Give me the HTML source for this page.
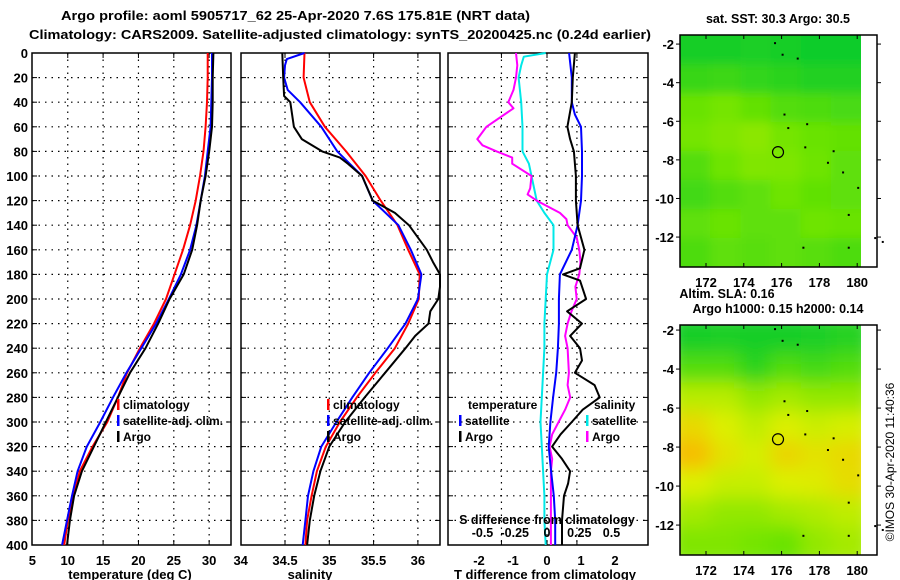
<!DOCTYPE html>
<html><head><meta charset="utf-8">
<style>
html,body{margin:0;padding:0;background:#fff;}
svg{display:block;font-family:"Liberation Sans",sans-serif;font-weight:bold;}
</style></head>
<body>
<svg id="fig" width="900" height="580" viewBox="0 0 900 580" xmlns="http://www.w3.org/2000/svg">
<rect width="900" height="580" fill="#fff"/>
<text x="61" y="20" font-size="13" textLength="469" lengthAdjust="spacingAndGlyphs">Argo profile: aoml 5905717_62 25-Apr-2020 7.6S 175.81E (NRT data)</text>
<text x="29" y="39" font-size="13" textLength="622" lengthAdjust="spacingAndGlyphs">Climatology: CARS2009. Satellite-adjusted climatology: synTS_20200425.nc (0.24d earlier)</text>
<g id="layer"></g>
</svg>
<script>
// ---- data ----
const depths = [0,20,40,60,80,100,120,140,160,180,200,220,240,260,280,300,320,340,360,380,400];
const tempClim = [29.8,29.8,29.7,29.5,29.2,28.7,28.1,27.3,26.3,25.1,23.9,22.2,20.2,18.4,17.1,15.6,13.5,11.7,10.8,10.0,9.5];
const tempSat  = [30.4,30.4,30.3,30.2,29.8,29.4,28.8,28.2,27.3,26.0,24.3,22.5,20.4,18.3,16.4,14.6,12.7,11.4,10.6,9.9,9.2];
const tempArgo = [30.6,30.5,30.5,30.4,30.0,29.5,28.8,28.3,27.6,26.4,24.4,22.8,21.0,18.8,17.1,15.4,13.7,12.0,10.9,10.3,9.9];

const salDepthsClim = [0,20,40,60,80,100,120,140,160,180,200,220,240,260,280,300,320,340,360,380,400];
const salClim = [34.72,34.71,34.78,34.95,35.19,35.41,35.58,35.77,35.89,36.02,36.01,35.89,35.74,35.52,35.31,35.12,34.96,34.86,34.80,34.75,34.73];
const salDepthsSat = [0,5,10,20,30,40,60,80,100,120,140,160,180,200,220,240,260,280,300,320,340,360,380,400];
const salSat = [34.72,34.52,34.50,34.49,34.53,34.67,34.91,35.09,35.37,35.49,35.78,35.92,36.04,36.00,35.86,35.66,35.45,35.26,35.08,34.91,34.82,34.76,34.73,34.70];
const salDepthsArgo = [0,20,35,40,60,70,80,85,90,100,120,130,140,160,170,180,190,200,210,220,230,240,260,280,300,320,340,360,380,400];
const salArgo = [34.47,34.48,34.49,34.56,34.60,34.69,34.92,35.12,35.21,35.37,35.49,35.74,35.90,36.10,36.17,36.25,36.25,36.23,36.14,36.12,35.97,35.86,35.63,35.40,35.18,35.00,34.90,34.83,34.78,34.75];

const tdDepthsSat = [0,20,40,50,60,80,100,120,140,160,180,200,220,240,260,280,300,320,340,360,380,400];
const tdSat = [0.65,0.73,0.73,0.82,1.0,1.03,1.03,1.0,0.9,0.73,0.38,0.35,0.35,0.32,0.27,0.18,0.1,0.05,0.12,0.2,0.24,0.24];
const tdDepthsArgo = [0,20,40,60,70,80,100,120,140,150,160,175,180,185,200,210,220,230,240,250,260,270,280,290,300,310,320,330,340,350,360,370,380,400];
const tdArgo = [0.82,0.76,0.73,0.6,0.68,0.79,0.85,0.85,0.9,1.0,1.1,0.97,0.47,0.97,1.15,0.59,1.03,0.68,0.97,1.03,0.82,1.4,1.55,1.05,0.73,0.4,0.15,0.44,0.68,0.62,0.5,0.47,0.44,0.44];
const sdDepthsSat = [0,3,10,20,40,60,80,90,100,120,130,140,160,180,200,220,240,260,280,300,320,340,360,380,400];
const sdSat = [-0.01,-0.18,-0.2,-0.22,-0.2,-0.19,-0.19,-0.14,-0.12,-0.08,-0.02,0.05,0.05,0.0,-0.01,-0.02,-0.02,-0.03,-0.04,-0.05,-0.04,-0.03,-0.02,-0.02,-0.01];
const sdDepthsArgo = [0,10,20,30,40,45,50,60,70,75,80,85,90,100,110,115,120,130,135,140,150,160,170,180,190,200,210,220,230,240,260,270,280,290,300,310,320,330,340,360,380,400];
const sdArgo = [-0.24,-0.23,-0.24,-0.26,-0.3,-0.26,-0.33,-0.47,-0.54,-0.5,-0.39,-0.27,-0.27,-0.12,-0.13,-0.15,-0.08,0.1,0.15,0.16,0.23,0.25,0.26,0.25,0.22,0.23,0.19,0.16,0.14,0.16,0.17,0.16,0.18,0.14,0.09,0.04,0.02,0.04,0.03,0.03,0.03,0.03];

const depthTicks = [0,20,40,60,80,100,120,140,160,180,200,220,240,260,280,300,320,340,360,380,400];
const tempTicks = [5,10,15,20,25,30];
const salTicks = [34,34.5,35,35.5,36];
const tdTicks = [-2,-1,0,1,2];
const sdTicks = [-0.5,-0.25,0,0.25,0.5];
const latTicks = [-2,-4,-6,-8,-10,-12];
const lonTicks = [172,174,176,178,180];
// coarse map fields (0=green .. 1=orange), rows north->south
const sstField = [
 [0.08,0.08,0.1,0.08,0.06,0.06],
 [0.2,0.22,0.18,0.15,0.12,0.12],
 [0.38,0.42,0.36,0.3,0.28,0.26],
 [0.42,0.45,0.48,0.42,0.38,0.36],
 [0.3,0.4,0.45,0.44,0.4,0.34],
 [0.24,0.3,0.34,0.4,0.35,0.34],
 [0.34,0.38,0.34,0.34,0.4,0.38],
 [0.28,0.34,0.32,0.34,0.32,0.28]];
const slaField = [
 [0.08,0.1,0.08,0.08,0.1,0.14],
 [0.3,0.3,0.15,0.3,0.24,0.3],
 [0.6,0.6,0.5,0.55,0.5,0.5],
 [0.8,0.7,0.62,0.7,0.65,0.68],
 [0.92,0.76,0.68,0.82,0.76,0.8],
 [0.7,0.64,0.64,0.7,0.72,0.78],
 [0.55,0.5,0.5,0.55,0.58,0.62],
 [0.45,0.45,0.42,0.38,0.5,0.55]];

// ---- helpers ----
const NS='http://www.w3.org/2000/svg';
const layer=document.getElementById('layer');
function mk(tag,attrs,parent){const e=document.createElementNS(NS,tag);for(const k in attrs)e.setAttribute(k,attrs[k]);(parent||layer).appendChild(e);return e;}
function txt(x,y,s,size,anchor,parent){const t=mk('text',{x:x,y:y,'font-size':size,'text-anchor':anchor||'middle'},parent);t.textContent=s;return t;}
const Y0=53, Y1=545;
const yD=d=>Y0+d*(Y1-Y0)/400;

function panel(name,x0,x1,xs,gridVals,tickVals,tickLabels){
  const g=mk('g',{});
  
  
  depthTicks.forEach(d=>{ if(d>0&&d<400){mk('line',{x1:x0,x2:x1,y1:yD(d),y2:yD(d),stroke:'#000','stroke-width':1.2,'stroke-dasharray':'1.5 5'},g);
    mk('line',{x1:x0,x2:x0+5,y1:yD(d),y2:yD(d),stroke:'#000','stroke-width':1},g);
    mk('line',{x1:x1-5,x2:x1,y1:yD(d),y2:yD(d),stroke:'#000','stroke-width':1},g);} });
  gridVals.forEach(v=>{mk('line',{x1:xs(v),x2:xs(v),y1:Y0,y2:Y1,stroke:'#000','stroke-width':1.2,'stroke-dasharray':'1.5 5'},g);
    mk('line',{x1:xs(v),x2:xs(v),y1:Y0,y2:Y0+5,stroke:'#000'},g);mk('line',{x1:xs(v),x2:xs(v),y1:Y1-5,y2:Y1,stroke:'#000'},g);});
  mk('rect',{x:x0,y:Y0,width:x1-x0,height:Y1-Y0,fill:'none',stroke:'#000','stroke-width':1.5},g);
  tickVals.forEach((v,i)=>{const t=txt(xs(v),565,tickLabels[i],13,'middle',g);
    
    });
  return g;
}
function series(name,xs,vals,ds,color,g,w){
  const pts=vals.map((v,i)=>xs(v).toFixed(1)+','+yD(ds[i]).toFixed(1)).join(' ');
  const p=mk('polyline',{points:pts,fill:'none',stroke:color,'stroke-width':w||2,'stroke-linejoin':'round'},g);
  
  
}
function legendEntry(x,y,color,label,g){
  const e=mk('g',{},g);
  
  
  if(color) mk('rect',{x:x,y:y-10,width:2.5,height:11,fill:color},e);
  txt(x+6,y,label,12,'start',e);
}

depthTicks.forEach(d=>{const t=txt(28,yD(d)+5,String(d),13,'end');
  
  });

const xT=v=>32.4+(v-5)*7.07;
const p1=panel('temperature-panel',32,231,xT,[10,15,20,25,30],tempTicks,tempTicks.map(String));
series('temperature-climatology-line',xT,tempClim,depths,'#f00',p1);
series('temperature-satellite-line',xT,tempSat,depths,'#00f',p1);
series('temperature-argo-line',xT,tempArgo,depths,'#000',p1);
legendEntry(117,409,'#f00','climatology',p1);
legendEntry(117,425,'#00f','satellite-adj. clim.',p1);
legendEntry(117,441,'#000','Argo',p1);
let t1=txt(130,579,'temperature (deg C)',13);

const xS=v=>240.7+(v-34)*88.6;
const p2=panel('salinity-panel',241,440,xS,[34.5,35,35.5,36],salTicks,salTicks.map(String));
series('salinity-climatology-line',xS,salClim,salDepthsClim,'#f00',p2);
series('salinity-satellite-line',xS,salSat,salDepthsSat,'#00f',p2);
series('salinity-argo-line',xS,salArgo,salDepthsArgo,'#000',p2);
legendEntry(327,409,'#f00','climatology',p2);
legendEntry(327,425,'#00f','satellite-adj. clim.',p2);
legendEntry(327,441,'#000','Argo',p2);
let t2=txt(310,579,'salinity',13);

const xTD=v=>547+v*34;
const xSD=v=>547+v*129;
const p3=panel('difference-panel',448,648,xTD,[-1.34,0,0.88],tdTicks,tdTicks.map(String));
series('sdiff-satellite-line',xSD,sdSat,sdDepthsSat,'#00e8e8',p3);
series('sdiff-argo-line',xSD,sdArgo,sdDepthsArgo,'#f0f',p3);
series('tdiff-satellite-line',xTD,tdSat,tdDepthsSat,'#00f',p3);
series('tdiff-argo-line',xTD,tdArgo,tdDepthsArgo,'#000',p3);
legendEntry(462,409,null,'temperature',p3);
legendEntry(459,425,'#00f','satellite',p3);
legendEntry(459,441,'#000','Argo',p3);
legendEntry(588,409,null,'salinity',p3);
legendEntry(586,425,'#00e8e8','satellite',p3);
legendEntry(586,441,'#f0f','Argo',p3);
let t3=txt(547,524,'S difference from climatology',12.5);
sdTicks.forEach(v=>{const t=txt(xSD(v),537,String(v),12.5);
  
  });
let t4=txt(545,579,'T difference from climatology',13);

// ---- maps ----
function lerp(a,b,t){return Math.round(a+(b-a)*t);}
function col(v){const stops=[[0,[0,200,50]],[0.4,[110,228,0]],[0.7,[220,240,0]],[1,[255,170,0]]];
  for(let i=0;i<stops.length-1;i++){const [a,ca]=stops[i],[b,cb]=stops[i+1];if(v<=b){const t=(v-a)/(b-a);return 'rgb('+lerp(ca[0],cb[0],t)+','+lerp(ca[1],cb[1],t)+','+lerp(ca[2],cb[2],t)+')';}}
  return 'rgb(255,170,0)';}
const defs=mk('defs',{});
const fb=mk('filter',{id:'blur',x:'-5%',y:'-5%',width:'110%',height:'110%'},defs);
mk('feGaussianBlur',{stdDeviation:9},fb);
const fb2=mk('filter',{id:'blur2',x:'-5%',y:'-5%',width:'110%',height:'110%'},defs);
mk('feGaussianBlur',{stdDeviation:5},fb2);
function map(name,top,bot,latTop,latPerPx,field,smooth){
  const g=mk('g',{});
  
  
  const lonX=l=>706+(l-172)*18.9;
  const latY=l=>top+(latTop-l)/latPerPx;
  const L=680,R=861,B=877;
  const clip=mk('clipPath',{id:'clip-'+name},defs);
  mk('rect',{x:L,y:top,width:R-L,height:bot-top},clip);
  const cg=mk('g',{'clip-path':'url(#clip-'+name+')'},g);
  const cells=mk('g',{filter:smooth?'url(#blur)':'url(#blur2)'},cg);
  const rows=field.length,cols=field[0].length;
  const cw=(R-L)/cols,ch=(bot-top)/rows;
  field.forEach((row,r)=>row.forEach((v,c)=>{
    const rc=mk('rect',{x:L+c*cw-(c==0?12:0),y:top+r*ch-(r==0?12:0),width:cw+0.5+(c==0||c==cols-1?12:0),height:ch+0.5+(r==0||r==rows-1?12:0),fill:col(v)},cells);
    
    
  }));
  mk('rect',{x:L,y:top,width:B-L,height:bot-top,fill:'none',stroke:'#000','stroke-width':1.5},g);
  latTicks.forEach(l=>{const y=latY(l);
    mk('line',{x1:L-4,x2:L,y1:y,y2:y,stroke:'#000'},g);mk('line',{x1:B,x2:B+4,y1:y,y2:y,stroke:'#000'},g);
    const t=txt(674,y+5,String(l),13,'end',g);});
  lonTicks.forEach(l=>{const x=lonX(l);
    mk('line',{x1:x,x2:x,y1:top,y2:top+4,stroke:'#000'},g);mk('line',{x1:x,x2:x,y1:bot-4,y2:bot,stroke:'#000'},g);
    const t=txt(x,bot+20,String(l),13,'middle',g);});
  const c=mk('circle',{cx:lonX(175.81),cy:latY(-7.6),r:5.5,fill:'none',stroke:'#000','stroke-width':1.2},g);
  
  
  [[175.6,-1.9],[176,-2.5],[176.8,-2.7],[176.1,-5.6],[176.3,-6.3],[177.3,-6.1],[177.2,-7.3],[178.7,-7.5],[178.4,-8.1],[179.2,-8.6],[180,-9.4],[179.5,-10.8],[177.1,-12.5],[179.5,-12.5],[180.9,-12],[181.3,-12.2]].forEach(p=>{
    mk('rect',{x:lonX(p[0]),y:latY(p[1]),width:2,height:2,fill:'#000'},g);});
  return g;
}
let mt=txt(778,23,'sat. SST: 30.3 Argo: 30.5',12.5);
map('sst-map',35,267,-1.53,1/19.3,sstField,false);
let ma=txt(727,298,'Altim. SLA: 0.16',12.5);
let mb=txt(778,313,'Argo h1000: 0.15 h2000: 0.14',12.5);
map('sla-map',325,555,-1.74,1/19.5,slaField,true);
let cp=txt(0,0,'©IMOS 30-Apr-2020 11:40:36',12,'middle');
cp.setAttribute('transform','translate(894,462) rotate(-90)');
cp.setAttribute('font-weight','normal');


</script>
</body></html>
